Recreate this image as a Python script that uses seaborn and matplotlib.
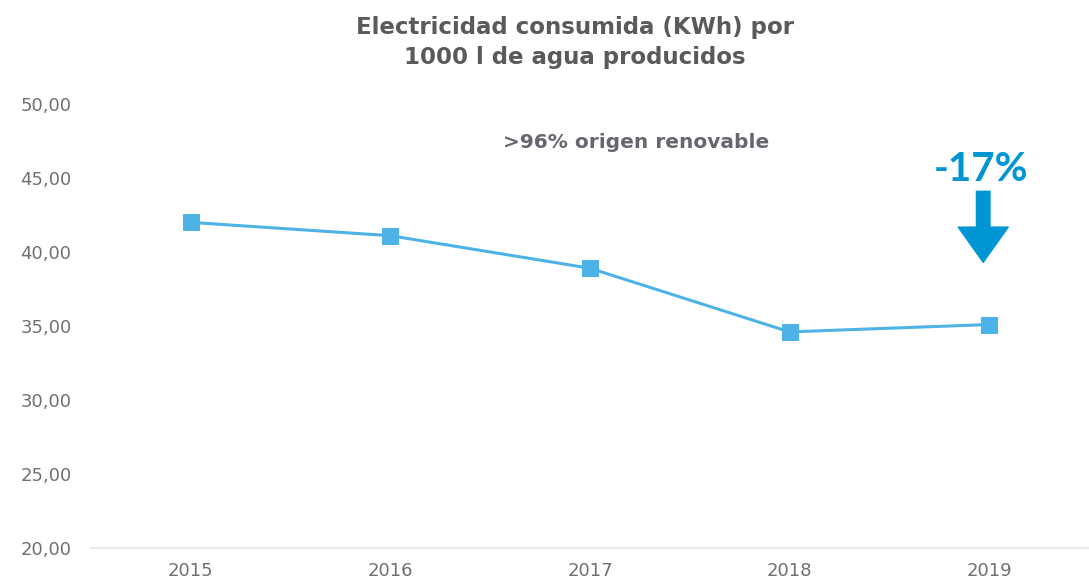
import matplotlib
matplotlib.use("Agg")
import matplotlib.pyplot as plt
import seaborn as sns
import pandas as pd

years = ["2015", "2016", "2017", "2018", "2019"]
values = [42.0, 41.1, 38.9, 34.6, 35.1]
y_ticks = [20, 25, 30, 35, 40, 45, 50]
y_tick_labels = ["20,00", "25,00", "30,00", "35,00", "40,00", "45,00", "50,00"]
title_text = "Electricidad consumida (KWh) por\n1000 l de agua producidos"
note_text = ">96% origen renovable"
change_text = "-17%"

sns.set_theme(style="white")
plt.rcParams['font.family'] = ['DejaVu Sans']

df = pd.DataFrame({"year": years, "value": values})

fig = plt.figure(figsize=(10.89, 5.84), dpi=100)
ax = fig.add_axes([91 / 1089, 0.0616, 998 / 1089, 0.7604])

line_color = "#4DB3E6"
sns.lineplot(data=df, x="year", y="value", ax=ax, color=line_color, linewidth=2.2,
             marker="s", markersize=11, markeredgecolor=line_color, markerfacecolor=line_color,
             sort=False)

ax.set_xlim(-0.5, 4.5)
ax.set_ylim(20, 50)
ax.set_yticks(y_ticks)
ax.set_yticklabels(y_tick_labels)
ax.set_xlabel("")
ax.set_ylabel("")
ax.tick_params(axis="both", length=0, labelsize=13, colors="#707070")
ax.tick_params(axis="y", pad=14)
ax.tick_params(axis="x", pad=10)
for s in ["top", "right", "left"]:
    ax.spines[s].set_visible(False)
ax.spines["bottom"].set_color("#E8E8E8")
ax.spines["bottom"].set_linewidth(1.5)
ax.grid(False)

fig.text(0.528, 0.972, title_text, ha="center", va="top", fontsize=16.5, fontweight="bold",
         color="#5A5A5A", linespacing=1.35)

ax.text(2.23, 47.4, note_text, ha="center", va="center", fontsize=14.5, fontweight="bold",
        color="#666670")

blue = "#0096D6"
ax.text(3.96, 45.6, change_text, ha="center", va="center", fontsize=29, fontweight="bold",
        color=blue, family="Lato")
ax.annotate("", xy=(3.97, 39.3), xytext=(3.97, 44.1),
            arrowprops=dict(arrowstyle="simple,head_length=1.95,head_width=2.77,tail_width=0.75",
                            color=blue, mutation_scale=13, shrinkA=0, shrinkB=0))

fig.savefig("out.png", dpi=100)
